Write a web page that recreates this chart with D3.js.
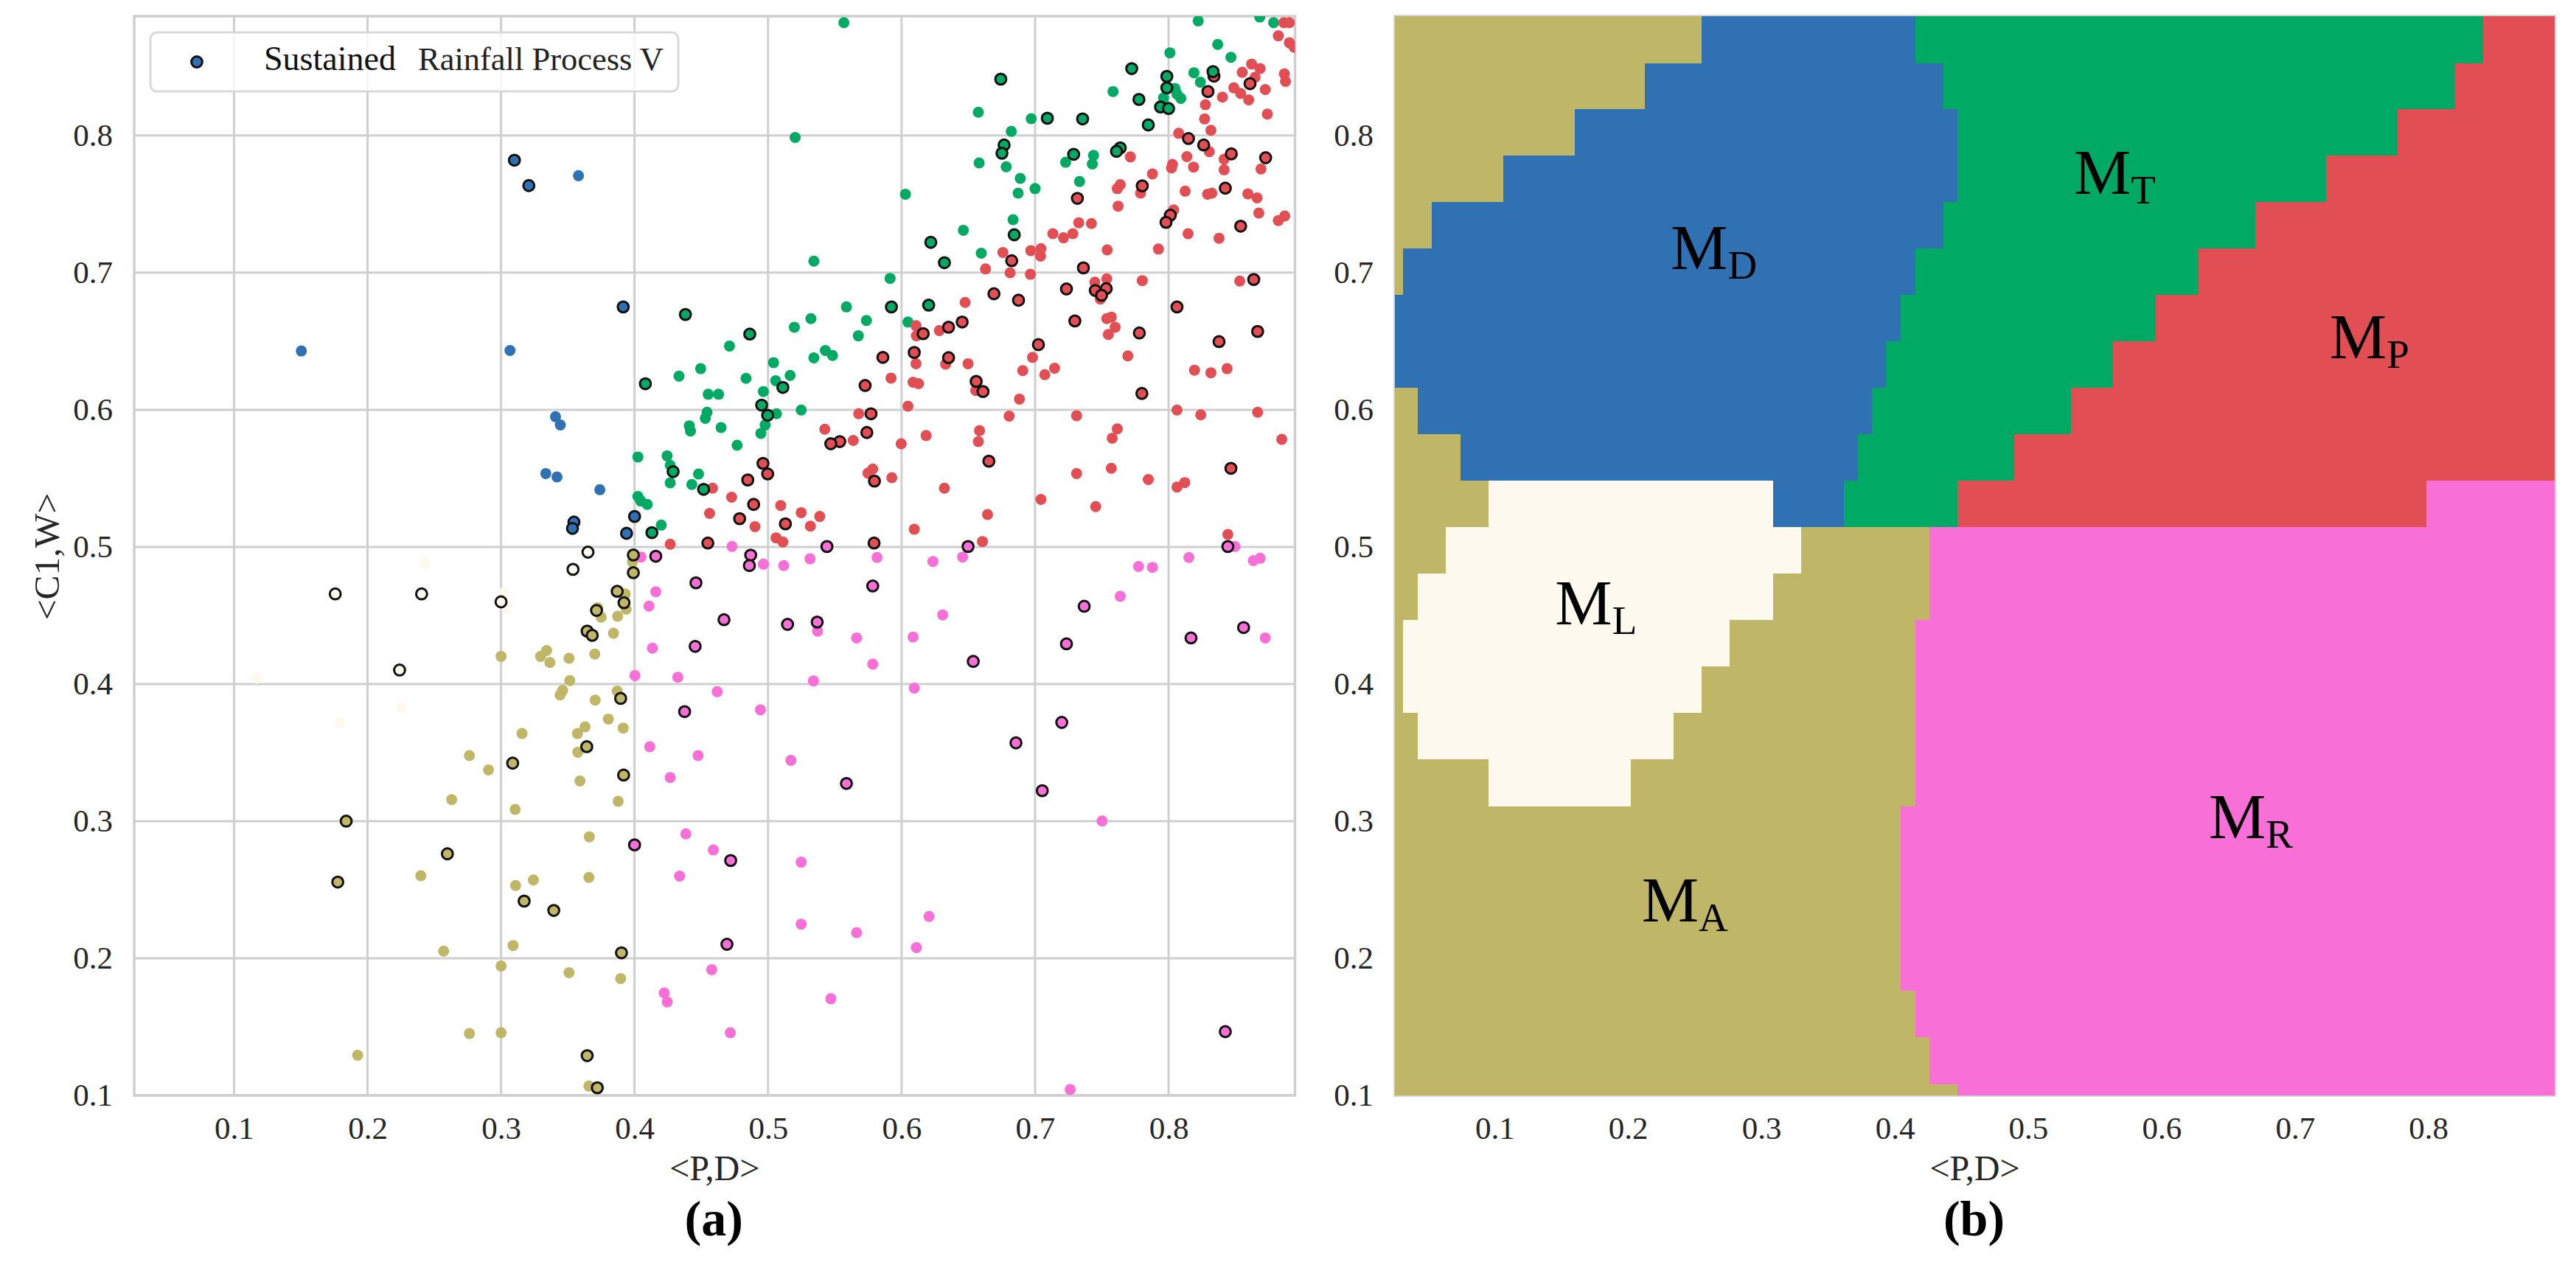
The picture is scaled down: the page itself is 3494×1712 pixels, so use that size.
<!DOCTYPE html>
<html>
<head>
<meta charset="utf-8">
<title>Rainfall process map</title>
<script src="https://d3js.org/d3.v7.min.js"></script>
<style>
  html, body { margin: 0; padding: 0; background: #fff; }
  svg { display: block; }
  text { font-family: "Liberation Serif", "Times New Roman", serif; }
</style>
</head>
<body>
<div id="chart"></div>
<script>
// ---- ticks and labels
var xTicks = [0.1, 0.2, 0.3, 0.4, 0.5, 0.6, 0.7, 0.8];
var yTicks = [0.1, 0.2, 0.3, 0.4, 0.5, 0.6, 0.7, 0.8];
var xDomain = [0.0252, 0.8947];
var yDomain = [0.1, 0.887];
var xTitle = "<P,D>";
var yTitle = "<C1,W>";
var panelLetters = ["(a)", "(b)"];
var legendWords = ["Sustained", "Rainfall Process V"];

// ---- panel (a) : points [<P,D>, <C1,W>] by class, plain ones and ringed ones
var blueDots = [[0.358,0.7707],[0.1504,0.6429],[0.3067,0.6432],[0.3408,0.5949],[0.3444,0.5889],[0.3335,0.5535],[0.3419,0.551],[0.374,0.5417]];
var blueRings = [[0.31,0.782],[0.3208,0.7635],[0.3915,0.675],[0.3546,0.5181],[0.3535,0.5135],[0.4,0.5222],[0.394,0.5099]];

var creamDots = [[0.243,0.488],[0.1168,0.4043],[0.1793,0.3719],[0.2256,0.3827],[0.3017,0.4664],[0.304,0.4556]];
var creamRings = [[0.3539,0.4836],[0.3651,0.4962],[0.1758,0.4657],[0.2405,0.4657],[0.3,0.4599],[0.224,0.4102]];

var oliveDots = [[0.3984,0.4889],[0.393,0.4657],[0.3937,0.4546],[0.3724,0.4556],[0.375,0.4488],[0.3873,0.4494],[0.3842,0.437],[0.3341,0.4244],[0.3296,0.4201],[0.3366,0.4157],
  [0.3,0.4201],[0.3509,0.4188],[0.3702,0.4219],[0.3515,0.4025],[0.3461,0.3954],[0.3442,0.392],[0.387,0.3948],[0.3705,0.3883],[0.3804,0.3744],[0.3629,0.3688],
  [0.3915,0.3679],[0.3572,0.3639],[0.3157,0.3639],[0.3575,0.3503],[0.2763,0.3478],[0.2906,0.3373],[0.3591,0.3293],[0.263,0.3157],[0.3877,0.3145],[0.3106,0.3086],
  [0.3661,0.2886],[0.3658,0.259],[0.2399,0.2602],[0.3109,0.2531],[0.3242,0.2571],[0.257,0.2052],[0.309,0.2093],[0.3,0.1944],[0.3509,0.1895],[0.3896,0.1852],
  [0.2763,0.1451],[0.3,0.1457],[0.1926,0.1293],[0.3658,0.1068]];
var oliveRings = [[0.3991,0.4812],[0.387,0.4676],[0.3921,0.4593],[0.3715,0.4537],[0.3645,0.4386],[0.3683,0.4355],[0.3896,0.3895],[0.3642,0.3543],[0.3087,0.3423],[0.3918,0.3336],
  [0.184,0.3],[0.2598,0.2762],[0.1777,0.2556],[0.3173,0.2417],[0.3395,0.2349],[0.3902,0.204],[0.3645,0.129],[0.3721,0.1056],[0.3991,0.4941]];

var pinkDots = [[0.4048,0.4926],[0.4159,0.4673],[0.4108,0.4568],[0.4134,0.4262],[0.4003,0.4062],[0.4324,0.4049],[0.4619,0.3944],[0.4114,0.3543],[0.4476,0.3478],[0.4267,0.3318],
  [0.4384,0.2907],[0.459,0.279],[0.4337,0.2599],[0.4578,0.1917],[0.4222,0.1747],[0.4245,0.1682],[0.4717,0.1457],[0.5371,0.4386],[0.5663,0.4336],[0.6086,0.4343],
  [0.6308,0.4504],[0.5784,0.4145],[0.534,0.4023],[0.6095,0.397],[0.4943,0.3812],[0.5171,0.3443],[0.5248,0.2701],[0.5248,0.2249],[0.5663,0.2187],[0.6206,0.2305],
  [0.6111,0.2078],[0.547,0.1705],[0.7502,0.3001],[0.7263,0.1043],[0.7638,0.464],[0.7775,0.4857],[0.7879,0.4851],[0.8724,0.4336],[0.8152,0.4923],[0.8635,0.49],
  [0.8686,0.4917],[0.4965,0.4874],[0.5117,0.4864],[0.5314,0.4913],[0.5816,0.4923],[0.6235,0.4894],[0.6457,0.4926],[0.473,0.5003],[0.8498,0.5003]];
var pinkRings = [[0.4159,0.4932],[0.446,0.4738],[0.467,0.4469],[0.4454,0.4275],[0.4375,0.3799],[0.4,0.2827],[0.472,0.2713],[0.4692,0.2102],[0.487,0.494],[0.486,0.4864],
  [0.5146,0.4435],[0.5368,0.4452],[0.5784,0.4715],[0.6537,0.4165],[0.7235,0.4293],[0.7368,0.4567],[0.8168,0.4336],[0.8562,0.4412],[0.72,0.372],[0.6857,0.3571],
  [0.7054,0.3222],[0.5587,0.3275],[0.8425,0.1465],[0.5441,0.5003],[0.6498,0.5003],[0.8444,0.5003]];

var redDots = [[0.8863,0.8823],[0.8905,0.8823],[0.8822,0.8727],[0.8905,0.8677],[0.894,0.8644],[0.8622,0.8521],[0.8552,0.8461],[0.8686,0.8488],[0.8648,0.8425],[0.8867,0.845],
  [0.8876,0.8395],[0.8489,0.8348],[0.8724,0.8335],[0.854,0.8307],[0.8403,0.828],[0.86,0.826],[0.8276,0.8225],[0.874,0.8156],[0.827,0.8121],[0.8317,0.8038],
  [0.8076,0.8016],[0.8305,0.7882],[0.7714,0.7844],[0.8137,0.7846],[0.8416,0.7827],[0.8029,0.7789],[0.8022,0.7764],[0.8187,0.777],[0.8416,0.775],[0.8692,0.7756],
  [0.7879,0.772],[0.7638,0.7641],[0.7616,0.7613],[0.779,0.758],[0.8124,0.7594],[0.8292,0.7572],[0.8324,0.758],[0.8594,0.7575],[0.8663,0.7545],[0.7622,0.7485],
  [0.8038,0.7457],[0.8676,0.7435],[0.887,0.7413],[0.8822,0.738],[0.7327,0.7364],[0.7422,0.7358],[0.7133,0.7284],[0.7283,0.7284],[0.7213,0.7254],[0.8146,0.7284],
  [0.8378,0.7251],[0.754,0.7166],[0.7924,0.7172],[0.6759,0.7147],[0.6968,0.7161],[0.7044,0.7175],[0.7041,0.712],[0.6629,0.7027],[0.6813,0.6999],[0.6965,0.6988],
  [0.7448,0.6931],[0.7537,0.6955],[0.7803,0.6942],[0.8533,0.6939],[0.7489,0.6807],[0.6476,0.6783],[0.7537,0.6665],[0.7571,0.6676],[0.6108,0.6613],[0.6283,0.6577],
  [0.6111,0.6539],[0.76,0.6602],[0.7549,0.6549],[0.6981,0.6382],[0.7695,0.6393],[0.7146,0.6303],[0.6908,0.6286],[0.7073,0.6256],[0.6108,0.6336],[0.633,0.6333],
  [0.6498,0.6336],[0.8194,0.6289],[0.8317,0.627],[0.8438,0.63],[0.5921,0.6231],[0.6086,0.6201],[0.6127,0.619],[0.6556,0.6141],[0.6883,0.6078],[0.6048,0.6026],
  [0.5679,0.5971],[0.6806,0.5954],[0.7311,0.5957],[0.8063,0.5998],[0.8241,0.5963],[0.8667,0.5982],[0.5425,0.5858],[0.6584,0.5848],[0.7616,0.5861],[0.6184,0.5812],
  [0.7578,0.5793],[0.6575,0.5768],[0.5638,0.5776],[0.5997,0.5752],[0.8848,0.5784],[0.5784,0.5568],[0.5749,0.5538],[0.7311,0.5535],[0.7571,0.5573],[0.5927,0.5505],
  [0.7848,0.5491],[0.8121,0.5469],[0.8063,0.5436],[0.4584,0.5428],[0.6321,0.5428],[0.4727,0.5362],[0.7044,0.5346],[0.5095,0.5302],[0.7454,0.5294],[0.4562,0.5244],
  [0.5248,0.525],[0.5387,0.5222],[0.6644,0.5236],[0.5317,0.5151],[0.4902,0.5148],[0.6095,0.5129],[0.506,0.5066],[0.5111,0.5036],[0.6606,0.5039],[0.8444,0.5091],[0.4267,0.502]];
var redRings = [[0.834,0.8433],[0.861,0.8378],[0.8295,0.8321],[0.8149,0.7978],[0.8263,0.7931],[0.847,0.7866],[0.8727,0.7838],[0.7803,0.7633],[0.7317,0.7542],[0.8425,0.7616],
  [0.8013,0.7419],[0.7981,0.7367],[0.854,0.7339],[0.6825,0.7087],[0.7362,0.7035],[0.8638,0.695],[0.6692,0.6846],[0.6876,0.6799],[0.7235,0.6881],[0.7451,0.687],
  [0.7533,0.6884],[0.7498,0.6835],[0.8063,0.675],[0.7298,0.6648],[0.6454,0.664],[0.6352,0.6602],[0.6162,0.6555],[0.7781,0.656],[0.8667,0.6571],[0.8378,0.6497],
  [0.7025,0.6475],[0.6095,0.6418],[0.586,0.6382],[0.6352,0.638],[0.6559,0.6207],[0.661,0.6133],[0.5727,0.6177],[0.78,0.6119],[0.5771,0.5971],[0.574,0.5834],
  [0.5537,0.5768],[0.547,0.5752],[0.6654,0.5625],[0.8467,0.5573],[0.4962,0.5609],[0.4997,0.5532],[0.4848,0.5488],[0.5797,0.548],[0.4892,0.531],[0.4787,0.5206],
  [0.513,0.5168],[0.4549,0.5028],[0.5794,0.5028]];

var greenDots = [[0.5568,0.8823],[0.8222,0.8836],[0.8683,0.8864],[0.8787,0.8823],[0.801,0.8603],[0.8368,0.8664],[0.8467,0.857],[0.819,0.8458],[0.8238,0.8389],[0.7584,0.8321],
  [0.8048,0.8343],[0.7962,0.8274],[0.8063,0.8302],[0.8092,0.8271],[0.6575,0.817],[0.6971,0.8123],[0.6822,0.803],[0.5203,0.7986],[0.6581,0.78],[0.6784,0.7772],
  [0.6889,0.7687],[0.7438,0.7855],[0.7429,0.7792],[0.7229,0.7805],[0.7333,0.7665],[0.7,0.7613],[0.6873,0.758],[0.6029,0.7572],[0.6835,0.7386],[0.6463,0.7309],
  [0.6597,0.7142],[0.5343,0.7084],[0.5914,0.6958],[0.5587,0.675],[0.5321,0.6665],[0.5197,0.6602],[0.5737,0.6651],[0.5676,0.6539],[0.6048,0.664],[0.4711,0.6465],
  [0.5429,0.6432],[0.5483,0.6396],[0.5343,0.6379],[0.5041,0.6344],[0.5165,0.6251],[0.5057,0.6212],[0.4835,0.6229],[0.4495,0.63],[0.4333,0.6245],[0.4552,0.6113],
  [0.4629,0.6113],[0.4965,0.6133],[0.4543,0.5982],[0.453,0.5938],[0.5248,0.5998],[0.5063,0.5971],[0.4978,0.5889],[0.4946,0.5828],[0.441,0.5883],[0.4419,0.5845],
  [0.4648,0.587],[0.4768,0.5741],[0.4244,0.5664],[0.4267,0.5595],[0.4479,0.5532],[0.4267,0.5467],[0.4429,0.5455],[0.4025,0.5656],[0.4025,0.5368],[0.4046,0.5335],
  [0.4095,0.531],[0.42,0.5159]];
var greenRings = [[0.6743,0.8411],[0.7724,0.8488],[0.7987,0.8431],[0.7987,0.8348],[0.8333,0.8466],[0.7778,0.8263],[0.794,0.8208],[0.8,0.8197],[0.7848,0.8077],[0.7092,0.8126],
  [0.7356,0.8121],[0.6768,0.7931],[0.6752,0.7871],[0.7289,0.7863],[0.7638,0.791],[0.761,0.7885],[0.6219,0.7221],[0.6321,0.7073],[0.6844,0.7276],[0.5924,0.675],
  [0.6203,0.6763],[0.4863,0.6552],[0.4381,0.6695],[0.5111,0.6163],[0.4952,0.6034],[0.4997,0.596],[0.4289,0.5549],[0.4517,0.542],[0.4081,0.619],[0.413,0.5104]];

// ---- panel (b) : y edges of the map rows, then for each row the class runs as [class, right end in <P,D>]
var mapRowEdges = [0.887,0.8527,0.8191,0.7855,0.7516,0.7177,0.6839,0.65,0.6161,0.5823,0.5484,0.5145,0.4806,0.4468,0.4129,0.379,0.3452,0.3108,0.2774,0.2435,0.2097,0.1763,0.1425,0.1081,0.1];
var mapRuns = [
  [["A",0.2551],["D",0.4152],["T",0.8412],["P",0.8947]],
  [["A",0.2127],["D",0.4362],["T",0.8199],["P",0.8947]],
  [["A",0.1598],["D",0.447],["T",0.7771],["P",0.8947]],
  [["A",0.1063],["D",0.447],["T",0.7236],["P",0.8947]],
  [["A",0.053],["D",0.4362],["T",0.6704],["P",0.8947]],
  [["A",0.0314],["D",0.4152],["T",0.6276],["P",0.8947]],
  [["D",0.4043],["T",0.5956],["P",0.8947]],
  [["D",0.3936],["T",0.5635],["P",0.8947]],
  [["A",0.0424],["D",0.3829],["T",0.532],["P",0.8947]],
  [["A",0.0743],["D",0.3724],["T",0.4895],["P",0.8947]],
  [["A",0.0953],["L",0.3087],["D",0.3617],["T",0.447],["P",0.7983],["R",0.8947]],
  [["A",0.0635],["L",0.3298],["A",0.426],["R",0.8947]],
  [["A",0.0424],["L",0.3087],["A",0.426],["R",0.8947]],
  [["A",0.0314],["L",0.2762],["A",0.4152],["R",0.8947]],
  [["A",0.0314],["L",0.2551],["A",0.4152],["R",0.8947]],
  [["A",0.0424],["L",0.2341],["A",0.4152],["R",0.8947]],
  [["A",0.0953],["L",0.2022],["A",0.4152],["R",0.8947]],
  [["A",0.4043],["R",0.8947]],
  [["A",0.4043],["R",0.8947]],
  [["A",0.4043],["R",0.8947]],
  [["A",0.4043],["R",0.8947]],
  [["A",0.4152],["R",0.8947]],
  [["A",0.426],["R",0.8947]],
  [["A",0.447],["R",0.8947]]
];
var mapLabels = [
  {sub:"D", x:0.232, y:0.7027},
  {sub:"T", x:0.5343, y:0.7575},
  {sub:"P", x:0.726, y:0.6373},
  {sub:"L", x:0.1453, y:0.4435},
  {sub:"A", x:0.2102, y:0.2269},
  {sub:"R", x:0.6354, y:0.2876}
];

var colors = {D:"#3071b3", T:"#00a964", P:"#e14e54", R:"#f96fd8", A:"#bfb767", L:"#fdf9ef"};
var gridColor = "#cfcfcf";
var textColor = "#262626";

var width = 3494, height = 1712;
var top_y = 22, bottom_y = 1486;
var panelA = {left:182, right:1756.5};
var panelB = {left:1892, right:3465};

var svg = d3.select("#chart").append("svg")
  .attr("width", width)
  .attr("height", height);

var y = d3.scaleLinear().domain(yDomain).range([bottom_y, top_y]);
var xa = d3.scaleLinear().domain(xDomain).range([panelA.left, panelA.right]);
var xb = d3.scaleLinear().domain(xDomain).range([panelB.left, panelB.right]);

// tick labels and titles are the same for both panels
function DrawAxes(g, x, panel, letter) {
  var xAxis = d3.axisBottom(x).tickValues(xTicks).tickFormat(d3.format(".1f")).tickSize(0).tickPadding(28);
  var yAxis = d3.axisLeft(y).tickValues(yTicks).tickFormat(d3.format(".1f")).tickSize(0).tickPadding(29);

  var gx = g.append("g").attr("transform", "translate(0," + bottom_y + ")").call(xAxis);
  var gy = g.append("g").attr("transform", "translate(" + panel.left + ",0)").call(yAxis);
  gx.select(".domain").remove();
  gy.select(".domain").remove();
  g.selectAll(".tick text")
    .style("font-family", '"Liberation Serif", serif')
    .style("font-size", "43px")
    .style("fill", textColor);

  g.append("text")
    .attr("x", (panel.left + panel.right) / 2)
    .attr("y", 1601)
    .attr("text-anchor", "middle")
    .style("font-size", "48px")
    .style("fill", textColor)
    .text(xTitle);

  g.append("text")
    .attr("x", (panel.left + panel.right) / 2 - 1)
    .attr("y", 1676)
    .attr("text-anchor", "middle")
    .style("font-size", "68px")
    .style("font-weight", "bold")
    .style("fill", "#000")
    .text(letter);
}

function DrawSpines(g, panel) {
  g.append("rect")
    .attr("x", panel.left)
    .attr("y", top_y)
    .attr("width", panel.right - panel.left)
    .attr("height", bottom_y - top_y)
    .attr("fill", "none")
    .attr("stroke", gridColor)
    .attr("stroke-width", 3.5);
}

/* ==============================
 *  panel (a) : scatter
 * ============================== */
var ga = svg.append("g");

ga.append("clipPath").attr("id", "clip_a").append("rect")
  .attr("x", panelA.left)
  .attr("y", top_y)
  .attr("width", panelA.right - panelA.left)
  .attr("height", bottom_y - top_y);

ga.append("g").selectAll("line").data(xTicks).join("line")
  .attr("x1", function(d) { return xa(d); })
  .attr("x2", function(d) { return xa(d); })
  .attr("y1", top_y)
  .attr("y2", bottom_y)
  .attr("stroke", gridColor)
  .attr("stroke-width", 3);

ga.append("g").selectAll("line").data(yTicks).join("line")
  .attr("x1", panelA.left)
  .attr("x2", panelA.right)
  .attr("y1", function(d) { return y(d); })
  .attr("y2", function(d) { return y(d); })
  .attr("stroke", gridColor)
  .attr("stroke-width", 3);

DrawSpines(ga, panelA);

var pointsLayer = ga.append("g").attr("clip-path", "url(#clip_a)");

function DrawDots(data, color, ringed) {
  pointsLayer.append("g").selectAll("circle").data(data).join("circle")
    .attr("cx", function(d) { return xa(d[0]); })
    .attr("cy", function(d) { return y(d[1]); })
    .attr("r", ringed ? 7.4 : 7.5)
    .attr("fill", color)
    .attr("stroke", ringed ? "#111" : "none")
    .attr("stroke-width", ringed ? 3 : 0);
}

DrawDots(creamDots, colors.L, false);
DrawDots(blueDots, colors.D, false);
DrawDots(oliveDots, colors.A, false);
DrawDots(pinkDots, colors.R, false);
DrawDots(greenDots, colors.T, false);
DrawDots(redDots, colors.P, false);
DrawDots(creamRings, colors.L, true);
DrawDots(blueRings, colors.D, true);
DrawDots(oliveRings, colors.A, true);
DrawDots(pinkRings, colors.R, true);
DrawDots(redRings, colors.P, true);
DrawDots(greenRings, colors.T, true);

DrawAxes(ga, xa, panelA, panelLetters[0]);

ga.append("text")
  .attr("transform", "translate(80,755) rotate(-90)")
  .attr("text-anchor", "middle")
  .style("font-size", "49.5px")
  .style("fill", textColor)
  .text(yTitle);

// legend
var legend = ga.append("g");
legend.append("rect")
  .attr("x", 204).attr("y", 44)
  .attr("width", 716).attr("height", 80)
  .attr("rx", 9)
  .attr("fill", "#fff")
  .attr("fill-opacity", 0.8)
  .attr("stroke", "#d9d9d9")
  .attr("stroke-width", 3);
legend.append("circle")
  .attr("cx", 267).attr("cy", 84)
  .attr("r", 7.4)
  .attr("fill", colors.D)
  .attr("stroke", "#111")
  .attr("stroke-width", 3);
legend.append("text")
  .attr("x", 358).attr("y", 95)
  .style("font-size", "46px")
  .style("fill", "#111")
  .text(legendWords[0]);
legend.append("text")
  .attr("x", 567).attr("y", 95)
  .style("font-size", "44.5px")
  .style("fill", "#222")
  .text(legendWords[1]);

/* ==============================
 *  panel (b) : class map
 * ============================== */
var gb = svg.append("g");

var cells = [];
mapRuns.forEach(function(runs, r) {
  var start = xDomain[0];
  runs.forEach(function(run) {
    cells.push({cls: run[0], x0: start, x1: run[1], y0: mapRowEdges[r], y1: mapRowEdges[r + 1]});
    start = run[1];
  });
});

DrawSpines(gb, panelB);

gb.append("g").attr("shape-rendering", "crispEdges")
  .selectAll("rect").data(cells).join("rect")
  .attr("x", function(d) { return xb(d.x0); })
  .attr("y", function(d) { return y(d.y0); })
  .attr("width", function(d) { return xb(d.x1) - xb(d.x0); })
  .attr("height", function(d) { return y(d.y1) - y(d.y0); })
  .attr("fill", function(d) { return colors[d.cls]; });

DrawAxes(gb, xb, panelB, panelLetters[1]);

var mapText = gb.append("g").selectAll("text").data(mapLabels).join("text")
  .attr("x", function(d) { return xb(d.x); })
  .attr("y", function(d) { return y(d.y); })
  .style("font-size", "87px")
  .style("fill", "#000");
mapText.append("tspan").text("M");
mapText.append("tspan")
  .attr("dy", 13)
  .style("font-size", "55px")
  .text(function(d) { return d.sub; });
</script>
</body>
</html>
